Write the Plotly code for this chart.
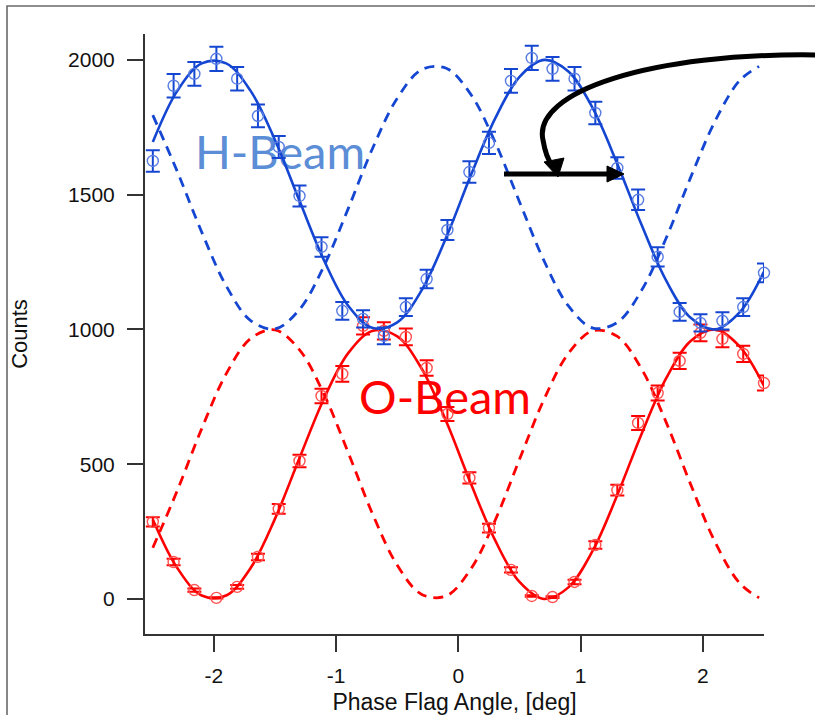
import plotly.graph_objects as go

# ---------------- data ----------------
angle_pts = [-2.50, -2.33, -2.16, -1.98, -1.81, -1.64, -1.47, -1.30, -1.12, -0.95,
             -0.78, -0.61, -0.43, -0.26, -0.09, 0.09, 0.25, 0.43, 0.60, 0.77,
             0.95, 1.12, 1.30, 1.47, 1.63, 1.81, 1.98, 2.16, 2.33, 2.50]

h_counts = [1625, 1904, 1948, 2004, 1930, 1792, 1677, 1495, 1306, 1069,
            1039, 976, 1083, 1187, 1369, 1584, 1692, 1922, 2007, 1967,
            1930, 1803, 1599, 1481, 1269, 1065, 1024, 1032, 1083, 1210]
h_err = [40, 44, 44, 45, 44, 42, 41, 39, 36, 33,
         32, 31, 33, 34, 37, 40, 41, 44, 45, 44,
         44, 42, 40, 38, 36, 33, 32, 32, 33, 35]

o_counts = [286, 137, 33, 4, 45, 156, 334, 512, 753, 835,
            1013, 995, 972, 857, 686, 449, 263, 108, 11, 7,
            63, 200, 404, 653, 764, 883, 987, 965, 909, 801]
o_err = [17, 12, 6, 2, 7, 12, 18, 23, 27, 29,
         32, 32, 31, 29, 26, 21, 16, 10, 3, 3,
         8, 14, 20, 26, 28, 30, 31, 31, 30, 28]

fit_x = [-2.5, -2.3, -2.1, -1.9, -1.7, -1.5, -1.3, -1.1, -0.9, -0.7, -0.5, -0.3, -0.1,
         0.1, 0.3, 0.5, 0.7, 0.9, 1.1, 1.3, 1.5, 1.7, 1.9, 2.1, 2.3, 2.5]
h_fit = [1695, 1885, 1987, 1987, 1885, 1702, 1477, 1257, 1087, 1005, 1026, 1146, 1341,
         1570, 1782, 1937, 2000, 1957, 1820, 1614, 1386, 1181, 1043, 1000, 1063, 1215]
o_fit = [295, 115, 13, 13, 115, 298, 523, 743, 913, 995, 974, 854, 659,
         430, 218, 63, 0, 43, 180, 386, 614, 819, 957, 1000, 937, 790]
alt_x = [-2.5, -2.3, -2.1, -1.9, -1.7, -1.5, -1.3, -1.1, -0.9, -0.7, -0.5, -0.3, -0.1,
         0.1, 0.3, 0.5, 0.7, 0.9, 1.1, 1.3, 1.5, 1.7, 1.9, 2.1, 2.3, 2.46]
h_alt = [1795, 1586, 1361, 1162, 1033, 1002, 1074, 1235, 1450, 1674, 1858, 1964, 1969,
         1873, 1695, 1473, 1255, 1087, 1005, 1026, 1146, 1339, 1564, 1773, 1923, 1976]
o_alt = [190, 402, 632, 835, 966, 998, 924, 760, 541, 313, 125, 17, 11,
         110, 291, 518, 740, 911, 995, 974, 852, 655, 425, 211, 59, 4]

x_ticks = [-2, -1, 0, 1, 2]
y_ticks = [0, 500, 1000, 1500, 2000]

# ---------------- styling ----------------
W, H = 815, 715
ML, MR, MT, MB = 145, 51, 34, 81
PW, PH = W - ML - MR, H - MT - MB

BLUE = "#1446d2"
BLUE_MK = "#5a7de2"
RED = "#ff0000"
RED_MK = "#ff5252"
AXC = "#333333"
FONT = "Liberation Sans, Arial, sans-serif"


def px(xp):
    return (xp - ML) / PW


def py(yp):
    return (H - MB - yp) / PH


fig = go.Figure()

dash = "10px,7px"
fig.add_trace(go.Scatter(x=alt_x, y=o_alt, mode="lines", line=dict(color=RED, width=2.8, dash=dash, shape="spline"),
                         showlegend=False, hoverinfo="skip"))
fig.add_trace(go.Scatter(x=alt_x, y=h_alt, mode="lines", line=dict(color=BLUE, width=2.8, dash=dash, shape="spline"),
                         showlegend=False, hoverinfo="skip"))
fig.add_trace(go.Scatter(x=fit_x, y=o_fit, mode="lines", line=dict(color=RED, width=2.6, shape="spline"),
                         showlegend=False, hoverinfo="skip"))
fig.add_trace(go.Scatter(x=angle_pts, y=o_counts, mode="markers",
                         marker=dict(symbol="circle-open", size=11, color=RED_MK, line=dict(width=1.4, color=RED_MK)),
                         error_y=dict(type="data", array=o_err, visible=True, color=RED, thickness=2, width=7),
                         cliponaxis=False, showlegend=False))
fig.add_trace(go.Scatter(x=fit_x, y=h_fit, mode="lines", line=dict(color=BLUE, width=2.6, shape="spline"),
                         showlegend=False, hoverinfo="skip"))
fig.add_trace(go.Scatter(x=angle_pts, y=h_counts, mode="markers",
                         marker=dict(symbol="circle-open", size=11, color=BLUE_MK, line=dict(width=1.4, color=BLUE_MK)),
                         error_y=dict(type="data", array=h_err, visible=True, color=BLUE, thickness=2, width=7),
                         cliponaxis=False, showlegend=False))

shapes = []
# outer frame
shapes.append(dict(type="rect", xref="paper", yref="paper", x0=px(7), x1=px(830), y0=py(6), y1=py(730),
                   line=dict(color="#6a6a6a", width=1.6), fillcolor="rgba(0,0,0,0)", layer="below"))
# text labels (drawn beneath the curves)
shapes.append(dict(type="rect", xref="paper", yref="paper", x0=px(180), x1=px(380), y0=py(185), y1=py(115),
                   line=dict(width=0), fillcolor="rgba(0,0,0,0)", layer="below",
                   label=dict(text="H-Beam", font=dict(family="Lato, Open Sans, sans-serif", size=47, color="#5b8ed6"),
                              textposition="middle center")))
shapes.append(dict(type="rect", xref="paper", yref="paper", x0=px(345), x1=px(545), y0=py(430), y1=py(360),
                   line=dict(width=0), fillcolor="rgba(0,0,0,0)", layer="below",
                   label=dict(text="O-Beam", font=dict(family="Lato, Open Sans, sans-serif", size=47, color=RED),
                              textposition="middle center")))


def P(a, b):
    return f"{px(a):.5f},{py(b):.5f}"


# curved arrow
curve = (f"M {P(820, 55)} C {P(650, 52)} {P(532, 92)} {P(543, 140)} "
         f"C {P(545, 152)} {P(548, 160)} {P(552, 165)}")
shapes.append(dict(type="path", xref="paper", yref="paper", path=curve,
                   line=dict(color="black", width=5)))
head1 = f"M {P(558, 177)} L {P(544, 162)} L {P(564, 158)} Z"
shapes.append(dict(type="path", xref="paper", yref="paper", path=head1,
                   line=dict(color="black", width=1), fillcolor="black"))
# straight arrow
shapes.append(dict(type="line", xref="paper", yref="paper", x0=px(504), x1=px(610), y0=py(174), y1=py(174),
                   line=dict(color="black", width=5)))
head2 = f"M {P(624, 174)} L {P(607, 166)} L {P(607, 182)} Z"
shapes.append(dict(type="path", xref="paper", yref="paper", path=head2,
                   line=dict(color="black", width=1), fillcolor="black"))

axis_common = dict(showgrid=False, zeroline=False, showline=True, linecolor=AXC, linewidth=2,
                   ticks="outside", ticklen=16, tickwidth=2, tickcolor=AXC, automargin=False,
                   tickfont=dict(family=FONT, size=21, color="#111111"))

fig.update_layout(
    width=W, height=H, autosize=False,
    margin=dict(l=ML, r=MR, t=MT, b=MB),
    paper_bgcolor="white", plot_bgcolor="white",
    shapes=shapes,
    xaxis=dict(range=[-2.564, 2.5], tickvals=x_ticks, ticktext=[str(v) for v in x_ticks],
               ticklabelstandoff=6,
               title=dict(text="Phase Flag Angle, [deg]", font=dict(family=FONT, size=23, color="#111111"), standoff=18),
               **axis_common),
    yaxis=dict(range=[-130, 2096], tickvals=y_ticks, ticktext=[str(v) for v in y_ticks],
               ticklabelstandoff=8,
               title=dict(text="Counts", font=dict(family=FONT, size=22, color="#111111"), standoff=34),
               **axis_common),
)

fig.write_html("out.html")
